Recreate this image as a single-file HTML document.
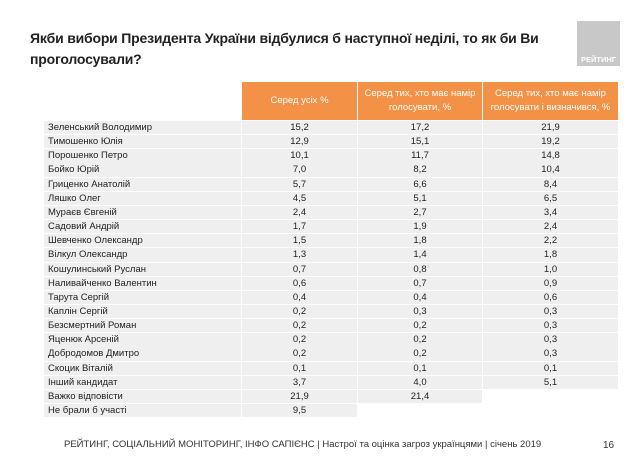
<!DOCTYPE html>
<html><head><meta charset="utf-8"><style>
body{margin:0;width:638px;height:456px;background:#fff;font-family:"Liberation Sans",sans-serif;position:relative;overflow:hidden}
.t{position:absolute;left:30px;top:28px;font-size:14px;font-weight:bold;color:#222;line-height:21px;letter-spacing:-0.2px}
.logo{position:absolute;left:577px;top:21px;width:43px;height:45px;background:#c8c8c8;color:#fff;font-size:7.5px;font-weight:bold;text-align:center;box-sizing:border-box;padding-top:34px}
.h{position:absolute;top:82px;height:38px;background:#f39146;color:#fff;font-size:9.5px;display:flex;align-items:center;justify-content:center;text-align:center;line-height:14px}
.r{position:absolute;height:13.3px;background:#efefef;font-size:9.5px;color:#222;line-height:13.5px;box-sizing:border-box}
.foot{position:absolute;left:64px;top:439px;font-size:9.5px;color:#333}
.pg{position:absolute;left:603px;top:440px;font-size:10px;color:#333}
</style></head><body>
<div class="t">Якби вибори Президента України відбулися б наступної неділі, то як би Ви<br>проголосували?</div>
<div class="logo">РЕЙТИНГ</div>
<div class="h" style="left:242px;width:115px">Серед усіх %</div>
<div class="h" style="left:358px;width:124px">Серед тих, хто має намір<br>голосувати, %</div>
<div class="h" style="left:483px;width:135px">Серед тих, хто має намір<br>голосувати і визначився, %</div>
<div id="tb"></div>
<div class="foot">РЕЙТИНГ, СОЦІАЛЬНИЙ МОНІТОРИНГ, ІНФО САПІЄНС | Настрої та оцінка загроз українцями | січень 2019</div>
<div class="pg">16</div>
<script>
const names=["Зеленський Володимир","Тимошенко Юлія","Порошенко Петро","Бойко Юрій","Гриценко Анатолій","Ляшко Олег","Мураєв Євгеній","Садовий Андрій","Шевченко Олександр","Вілкул Олександр","Кошулинський Руслан","Наливайченко Валентин","Тарута Сергій","Каплін Сергій","Безсмертний Роман","Яценюк Арсеній","Добродомов Дмитро","Скоцик Віталій","Інший кандидат","Важко відповісти","Не брали б участі"];
const colAll=["15,2","12,9","10,1","7,0","5,7","4,5","2,4","1,7","1,5","1,3","0,7","0,6","0,4","0,2","0,2","0,2","0,2","0,1","3,7","21,9","9,5"];
const colVoters=["17,2","15,1","11,7","8,2","6,6","5,1","2,7","1,9","1,8","1,4","0,8","0,7","0,4","0,3","0,2","0,2","0,2","0,1","4,0","21,4",null];
const colDecided=["21,9","19,2","14,8","10,4","8,4","6,5","3,4","2,4","2,2","1,8","1,0","0,9","0,6","0,3","0,3","0,3","0,3","0,1","5,1",null,null];
const tb=document.getElementById('tb');
const top0=121,rh=14.15;
function cell(x,w,y,txt,center,nm){const d=document.createElement('div');d.className='r';d.style.left=x+'px';d.style.width=w+'px';d.style.top=y+'px';d.style.textAlign=center?'center':'left';if(!center)d.style.paddingLeft='4px';d.textContent=txt;


tb.appendChild(d);}
names.forEach((n,i)=>{const y=top0+i*rh;
cell(44,197,y,n,false,'row-label');
cell(242,115,y,colAll[i],true,'value-all');
if(colVoters[i]!==null)cell(358,124,y,colVoters[i],true,'value-voters');
if(colDecided[i]!==null)cell(483,135,y,colDecided[i],true,'value-decided');});
</script>
</body></html>
